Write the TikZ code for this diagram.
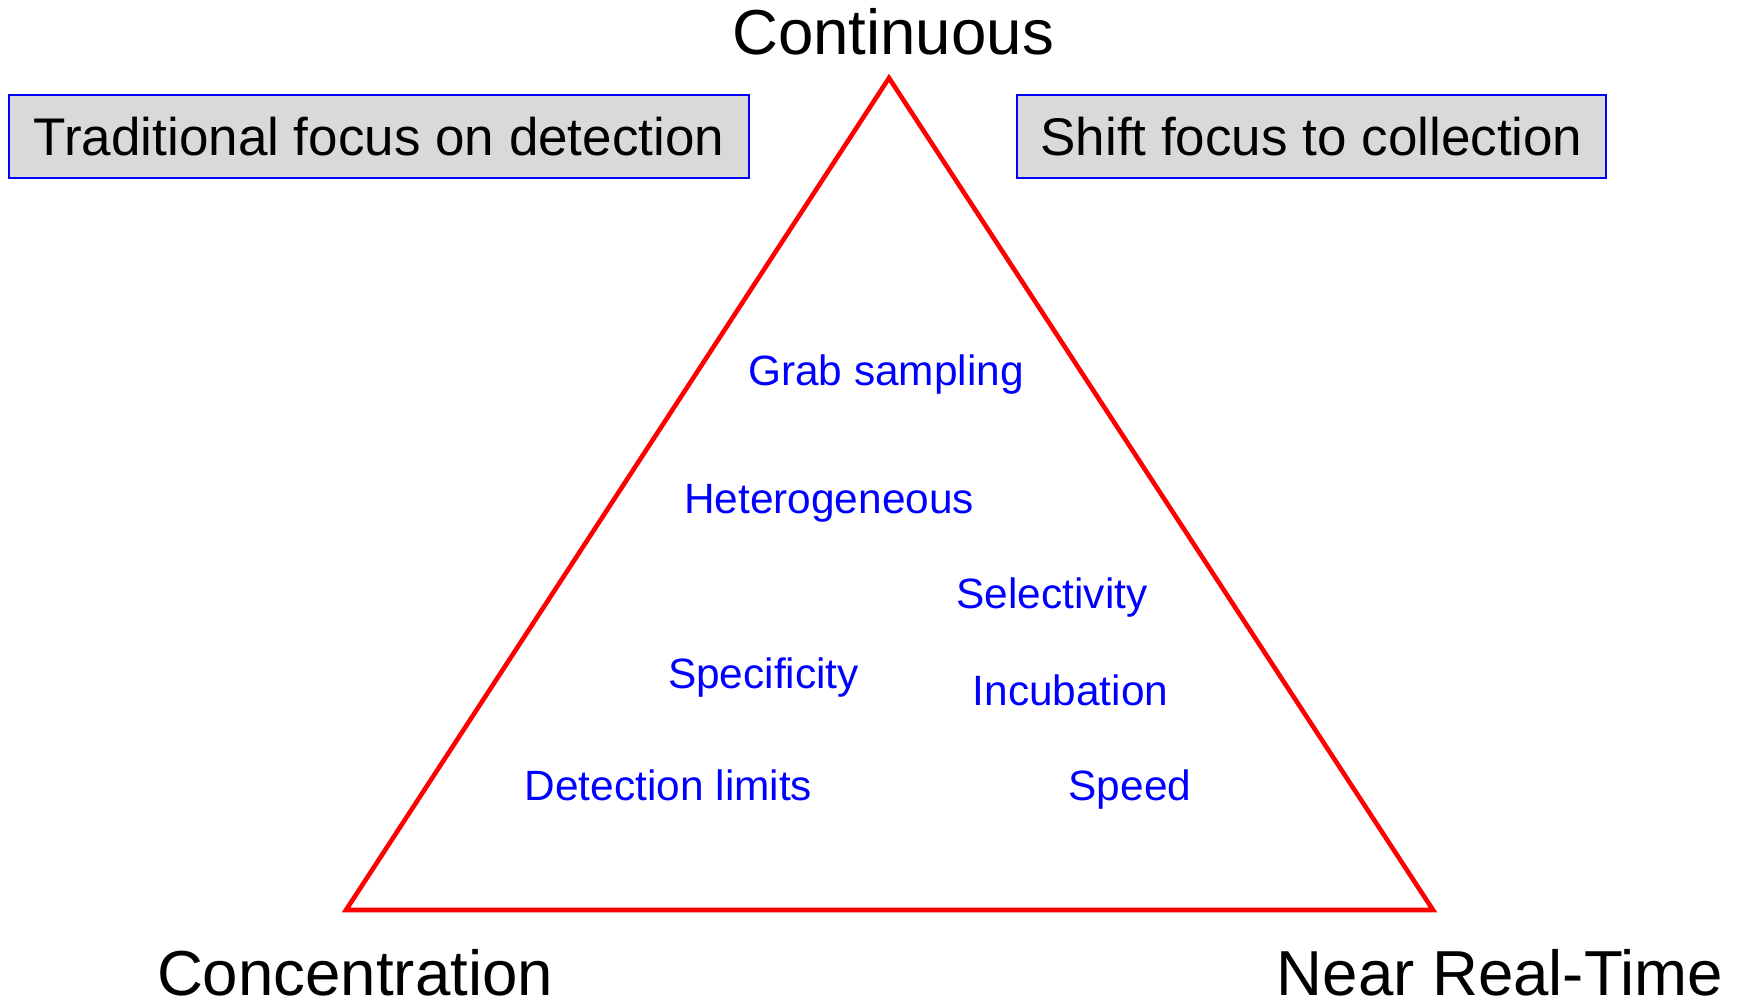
\documentclass[tikz,border=0pt]{standalone}
\usepackage{fontspec}
\setmainfont{Liberation Sans}
\usepackage{xcolor}
\usetikzlibrary{positioning}

\definecolor{boxgray}{RGB}{217,217,217}

\begin{document}
\begin{tikzpicture}[x=1pt,y=-1pt]
  \useasboundingbox (0,0) rectangle (1744,1003);
  \tikzstyle{corner}=[font=\fontsize{63.6}{70}\selectfont, anchor=base, inner sep=0, text depth=0pt]
  \tikzstyle{focus}=[draw=blue, line width=2pt, fill=boxgray, minimum height=83pt, inner sep=0,
    font=\fontsize{53}{60}\selectfont]
  \tikzstyle{factor}=[font=\fontsize{42.4}{48}\selectfont, text=blue, anchor=base, inner sep=0]

  % Triangle
  \coordinate (top) at (889,78);
  \coordinate (left) at (346,910);
  \coordinate (right) at (1433,910);
  \draw[red, line width=4.6pt, line join=miter] (top) -- (left) -- (right) -- cycle;

  % Corner labels
  \node[corner] (cont) at (893,55) {Continuous};
  \node[corner] (conc) at (355,995) {Concentration};
  \node[corner] (nrt) at (1500,995) {Near Real-Time};

  % Focus boxes
  \node[focus, minimum width=740pt] (trad) at (379,136.5) {Traditional focus on detection};
  \node[focus, minimum width=589pt] (shift) at (1311.5,136.5) {Shift focus to collection};

  % Factors
  \node[factor] (grab) at (886,385) {Grab sampling};
  \node[factor] (het) at (829,513) {Heterogeneous};
  \node[factor] (sel) at (1052,608) {Selectivity};
  \node[factor] (spec) at (763.5,688) {Specificity};
  \node[factor] (inc) at (1070.5,705) {Incubation};
  \node[factor] (det) at (668.5,800) {Detection limits};
  \node[factor] (speed) at (1130,800) {Speed};
\end{tikzpicture}
\end{document}
